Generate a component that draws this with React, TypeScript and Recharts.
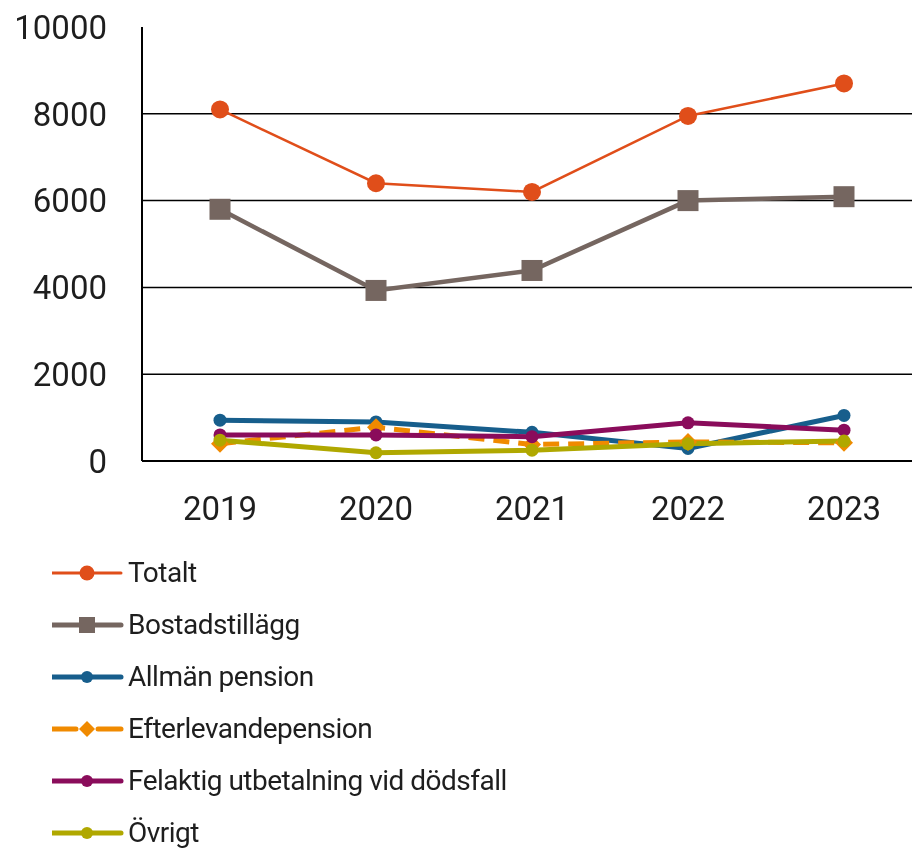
import React from 'react';
import { LineChart, Line, XAxis, YAxis, CartesianGrid, Legend } from 'recharts';

const years = ['2019', '2020', '2021', '2022', '2023'];
const totalt = [8100, 6400, 6200, 7950, 8700];
const bostadstillagg = [5800, 3930, 4390, 6000, 6090];
const allmanPension = [940, 900, 660, 290, 1050];
const efterlevandepension = [400, 780, 380, 440, 420];
const felaktig = [600, 600, 560, 880, 710];
const ovrigt = [480, 190, 250, 400, 460];
const yTicks = [0, 2000, 4000, 6000, 8000, 10000];
const gridValues = [2000, 4000, 6000, 8000];

type Shape = 'circle' | 'square' | 'diamond';
interface SeriesCfg {
  key: string;
  name: string;
  color: string;
  width: number;
  dash?: string;
  shape: Shape;
  size: number;
  legendWidth: number;
  legendSize: number;
}

const series: SeriesCfg[] = [
  { key: 'totalt', name: 'Totalt', color: '#E04E1A', width: 2.5, shape: 'circle', size: 9, legendWidth: 3, legendSize: 7.5 },
  { key: 'bostad', name: 'Bostadstillägg', color: '#756660', width: 4.5, shape: 'square', size: 10.5, legendWidth: 5, legendSize: 8 },
  { key: 'allman', name: 'Allmän pension', color: '#175E8C', width: 5, shape: 'circle', size: 6.5, legendWidth: 5, legendSize: 6 },
  { key: 'efter', name: 'Efterlevandepension', color: '#F08A00', width: 5, dash: '16 9', shape: 'diamond', size: 9, legendWidth: 5, legendSize: 8 },
  { key: 'felaktig', name: 'Felaktig utbetalning vid dödsfall', color: '#8A0C5B', width: 5, shape: 'circle', size: 6.5, legendWidth: 5, legendSize: 6 },
  { key: 'ovrigt', name: 'Övrigt', color: '#B0A800', width: 5, shape: 'circle', size: 6.5, legendWidth: 5, legendSize: 6 },
];

const values: Record<string, number[]> = {
  totalt,
  bostad: bostadstillagg,
  allman: allmanPension,
  efter: efterlevandepension,
  felaktig,
  ovrigt,
};

const data = years.map((y, i) => {
  const row: Record<string, string | number> = { year: y };
  series.forEach((s) => {
    row[s.key] = values[s.key][i];
  });
  return row;
});

function marker(shape: Shape, cx: number, cy: number, r: number, color: string, key?: string) {
  if (shape === 'square') {
    return <rect key={key} x={cx - r} y={cy - r} width={2 * r} height={2 * r} fill={color} />;
  }
  if (shape === 'diamond') {
    return (
      <polygon
        key={key}
        points={`${cx},${cy - r} ${cx + r},${cy} ${cx},${cy + r} ${cx - r},${cy}`}
        fill={color}
      />
    );
  }
  return <circle key={key} cx={cx} cy={cy} r={r} fill={color} />;
}

const LegendContent = () => (
  <div style={{ fontFamily: 'Roboto', display: 'flex', flexDirection: 'column' }}>
    {series.map((s) => (
      <div key={s.key} style={{ height: 52, display: 'flex', alignItems: 'center' }}>
        <svg width={76} height={30} style={{ display: 'block' }}>
          {s.dash ? (
            <g>
              <line x1={0} y1={15} x2={24} y2={15} stroke={s.color} strokeWidth={s.legendWidth} strokeLinecap="round" />
              <line x1={46} y1={15} x2={69} y2={15} stroke={s.color} strokeWidth={s.legendWidth} strokeLinecap="round" />
            </g>
          ) : (
            <line x1={0} y1={15} x2={69} y2={15} stroke={s.color} strokeWidth={s.legendWidth} strokeLinecap="round" />
          )}
          {marker(s.shape, 35, 15, s.legendSize, s.color)}
        </svg>
        <span style={{ fontSize: 28, color: '#1e1e1e', letterSpacing: -0.5, whiteSpace: 'nowrap', lineHeight: 1 }}>
          {s.name}
        </span>
      </div>
    ))}
  </div>
);

export default function App() {
  return (
    <div
      style={{
        position: 'fixed',
        left: 8,
        top: 8,
        width: 904,
        height: 844,
        overflow: 'hidden',
        fontFamily: 'Roboto',
      }}
    >
      <LineChart width={914} height={844} data={data} margin={{ top: 19, right: 0, bottom: 331, left: 0 }}>
        <CartesianGrid horizontal vertical={false} horizontalValues={gridValues} stroke="#000" strokeWidth={1.5} />
        <XAxis
          dataKey="year"
          height={60}
          padding={{ left: 78, right: 78 }}
          axisLine={{ stroke: '#000', strokeWidth: 2 }}
          tickLine={false}
          tickSize={0}
          tickMargin={36}
          tick={{ fontSize: 33, fill: '#1e1e1e', fontFamily: 'Roboto' }}
          interval={0}
        />
        <YAxis
          width={134}
          domain={[0, 10000]}
          ticks={yTicks}
          interval={0}
          axisLine={{ stroke: '#000', strokeWidth: 2 }}
          tickLine={false}
          tickSize={0}
          tickMargin={35}
          tick={{ fontSize: 33, fill: '#1e1e1e', fontFamily: 'Roboto' }}
        />
        <Legend
          layout="horizontal"
          verticalAlign="middle"
          align="center"
          content={<LegendContent />}
          wrapperStyle={{ position: 'absolute', left: 44, top: 539, width: 600, height: 305 }}
        />
        {series.map((s) => (
          <Line
            key={s.key}
            type="linear"
            dataKey={s.key}
            name={s.name}
            stroke={s.color}
            strokeWidth={s.width}
            strokeDasharray={s.dash}
            isAnimationActive={false}
            activeDot={false}
            dot={(p: any) => marker(s.shape, p.cx, p.cy, s.size, s.color, `${s.key}-${p.index}`)}
          />
        ))}
      </LineChart>
    </div>
  );
}
